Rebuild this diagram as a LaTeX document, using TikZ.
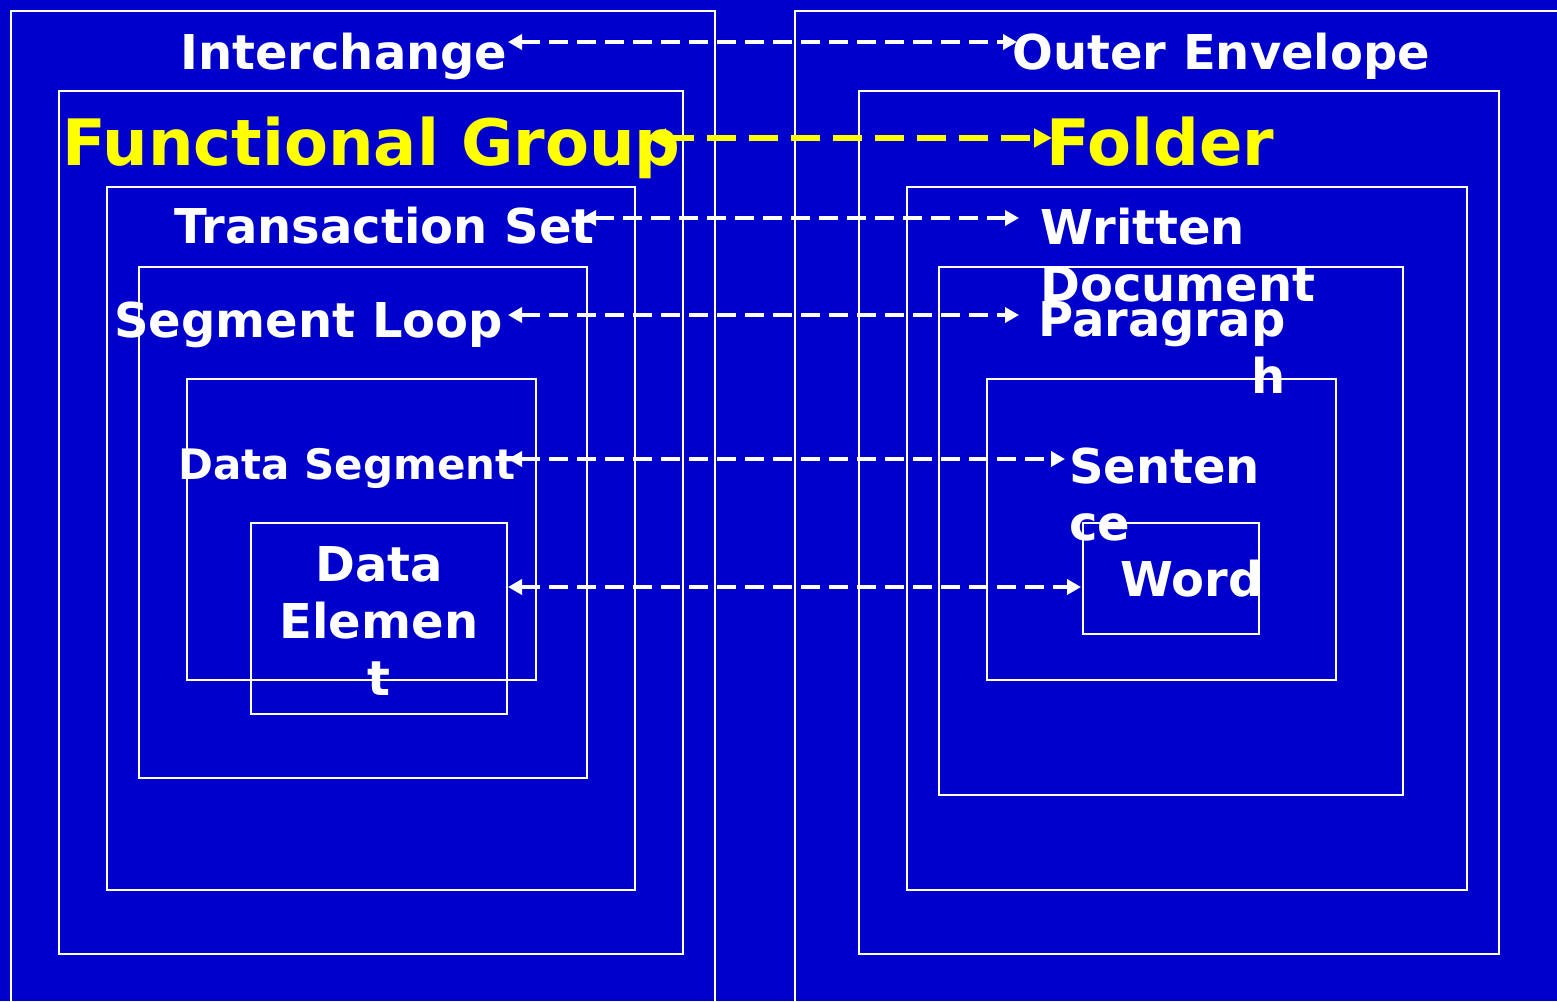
\documentclass[tikz,border=0pt]{standalone}
\usepackage{fontspec}
\setmainfont{DejaVu Sans}
\usetikzlibrary{arrows.meta}
\definecolor{bgblue}{HTML}{0000CC}
\definecolor{hiyellow}{HTML}{FFFF00}
\begin{document}
\begin{tikzpicture}[x=1pt,y=-1pt,
  frame/.style={draw=white,line width=2pt},
  lbl/.style={text=white,font=\fontsize{48}{57}\selectfont\bfseries,inner sep=0pt,anchor=base west},
  midlbl/.style={lbl,font=\fontsize{42}{50}\selectfont\bfseries},
  biglbl/.style={lbl,text=hiyellow,font=\fontsize{64}{77}\selectfont\bfseries},
  link/.style={white,line width=3.5pt,dash pattern=on 19pt off 9pt,
    {Triangle[length=14pt,width=15pt]}-{Triangle[length=14pt,width=15pt]}},
  ylink/.style={hiyellow,line width=6pt,dash pattern=on 29pt off 13pt,
    {Triangle[length=18pt,width=18pt]}-{Triangle[length=18pt,width=18pt]}}]

% page and background
\clip (0,0) rectangle (1557,1001);
\fill[bgblue] (0,0) rectangle (1557,1001);

% X12 side: nested envelopes
\draw[frame] (11,11) rectangle (715,1012);
\draw[frame] (59,91) rectangle (683,954);
\draw[frame] (107,187) rectangle (635,890);
\draw[frame] (139,267) rectangle (587,778);
\draw[frame] (187,379) rectangle (536,680);
\draw[frame] (251,523) rectangle (507,714);

% paper side: nested envelopes
\draw[frame] (795,11) rectangle (1570,1012);
\draw[frame] (859,91) rectangle (1499,954);
\draw[frame] (907,187) rectangle (1467,890);
\draw[frame] (939,267) rectangle (1403,795);
\draw[frame] (987,379) rectangle (1336,680);
\draw[frame] (1083,523) rectangle (1259,634);

% end points of the correspondence links
\coordinate (i1) at (508,42);   \coordinate (i2) at (1017,42);
\coordinate (f1) at (648,138);  \coordinate (f2) at (1052,138);
\coordinate (t1) at (582,218);  \coordinate (t2) at (1019,218);
\coordinate (s1) at (508,315);  \coordinate (s2) at (1019,315);
\coordinate (d1) at (508,459);  \coordinate (d2) at (1065,459);
\coordinate (e1) at (508,587);  \coordinate (e2) at (1081,587);

\draw[link]  (i1) -- (i2);
\draw[ylink] (f1) -- (f2);
\draw[link]  (t1) -- (t2);
\draw[link]  (s1) -- (s2);
\draw[link]  (d1) -- (d2);
\draw[link]  (e1) -- (e2);

% labels (multi-line labels are placed by the baseline of their last line)
\node[lbl] (interchange) at (180,69) {Interchange};
\node[lbl] (outer) at (1012,69) {Outer Envelope};
\node[biglbl] (fgroup) at (62,165) {Functional Group};
\node[biglbl] (folder) at (1046,165) {Folder};
\node[lbl] (tset) at (174,243) {Transaction Set};
\node[lbl,align=left] (written) at (1040,301) {Written\\Document};
\node[lbl] (sloop) at (114,337) {Segment Loop};
\node[lbl,align=right] (para) at (1038,393) {Paragrap\\h};
\node[midlbl] (dseg) at (178,479) {Data Segment};
\node[lbl,align=left] (sent) at (1069,540) {Senten\\ce};
\node[lbl,align=center,anchor=base] (delem) at (379,695) {Data\\Elemen\\t};
\node[lbl] (word) at (1120,596) {Word};
\end{tikzpicture}
\end{document}
